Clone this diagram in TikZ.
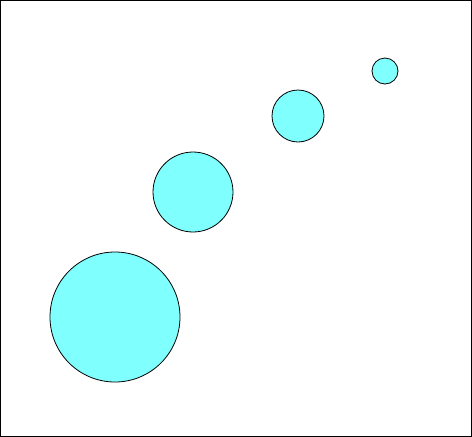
\documentclass[tikz,border=0pt]{standalone}
\usepackage{xcolor}
\usepackage{tikz}
\definecolor{ballCyan}{RGB}{128,255,255}

\begin{document}
\begin{tikzpicture}[
      x=1pt, y=-1pt,
      ball/.style={circle, draw, fill=ballCyan, inner sep=0pt, line width=0.8pt},
      frame/.style={draw, line width=1pt}
    ]
    \useasboundingbox (0,0) rectangle (472,437);
    \draw[frame] (0.5,0.5) rectangle (471.5,436.5);

    \node[ball, minimum size=130pt] (big)   at (115,317) {};
    \node[ball, minimum size=80pt]  (mid)   at (193,192) {};
    \node[ball, minimum size=52pt]  (small) at (298,116) {};
    \node[ball, minimum size=26pt]  (tiny)  at (385,71)  {};
  \end{tikzpicture}
\end{document}
